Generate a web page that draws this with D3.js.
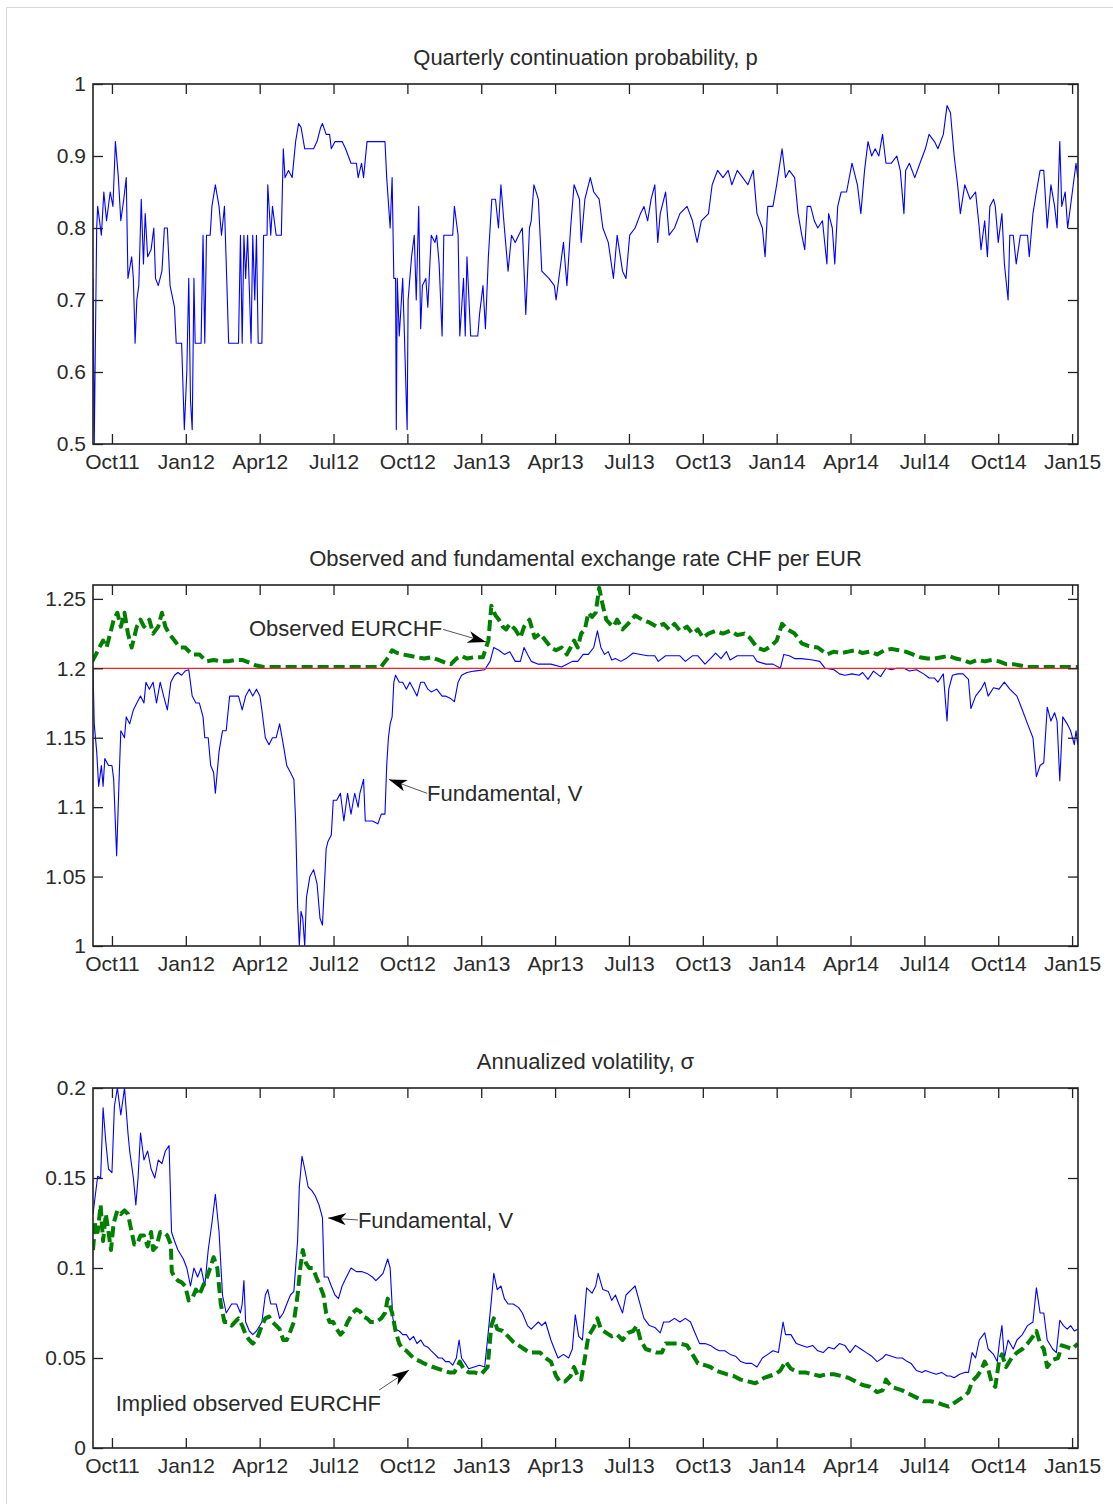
<!DOCTYPE html>
<html>
<head>
<meta charset="utf-8">
<script src="https://cdn.jsdelivr.net/npm/d3@7"></script>
<style>
  body { margin: 0; background: #fff; }
  text { font-family: "Liberation Sans", Arial, sans-serif; }
</style>
</head>
<body>
<svg id="chart" width="1113" height="1504"></svg>
<script>
// x values are months after 1 Oct 2011
var monthTicks = [0, 3, 6, 9, 12, 15, 18, 21, 24, 27, 30, 33, 36, 39];
var monthLabels = ["Oct11", "Jan12", "Apr12", "Jul12", "Oct12", "Jan13", "Apr13",
                   "Jul13", "Oct13", "Jan14", "Apr14", "Jul14", "Oct14", "Jan15"];

var pTicks = [0.5, 0.6, 0.7, 0.8, 0.9, 1];
var rateTicks = [1, 1.05, 1.1, 1.15, 1.2, 1.25];
var volTicks = [0, 0.05, 0.1, 0.15, 0.2];

var floorRate = 1.2;

// continuation probability p
var pSeries = [[-0.77,0.73],[-0.72,0.50],[-0.62,0.80],[-0.58,0.83],[-0.43,0.79],[-0.33,0.85],[-0.22,0.81],[-0.07,0.85],[0.04,0.83],[0.14,0.92],[0.26,0.87],[0.36,0.81],[0.48,0.84],[0.58,0.87],[0.65,0.73],[0.80,0.76],[0.87,0.73],[0.94,0.64],[1.01,0.70],[1.09,0.72],[1.19,0.84],[1.28,0.75],[1.35,0.82],[1.45,0.76],[1.59,0.77],[1.70,0.80],[1.77,0.73],[1.88,0.72],[2.03,0.74],[2.13,0.80],[2.25,0.80],[2.36,0.72],[2.54,0.69],[2.61,0.64],[2.83,0.64],[2.94,0.52],[3.04,0.60],[3.12,0.73],[3.19,0.56],[3.26,0.52],[3.33,0.73],[3.38,0.64],[3.62,0.64],[3.70,0.79],[3.77,0.64],[3.84,0.79],[3.99,0.79],[4.06,0.83],[4.20,0.86],[4.35,0.83],[4.45,0.79],[4.57,0.83],[4.67,0.72],[4.74,0.64],[5.14,0.64],[5.22,0.79],[5.29,0.64],[5.36,0.79],[5.43,0.73],[5.51,0.79],[5.65,0.64],[5.72,0.79],[5.80,0.70],[5.87,0.79],[5.94,0.64],[6.09,0.64],[6.16,0.79],[6.30,0.79],[6.33,0.86],[6.45,0.79],[6.52,0.83],[6.67,0.79],[6.88,0.79],[6.96,0.91],[7.03,0.87],[7.17,0.88],[7.32,0.87],[7.46,0.92],[7.58,0.945],[7.68,0.94],[7.83,0.91],[8.19,0.91],[8.33,0.92],[8.48,0.94],[8.55,0.945],[8.70,0.93],[8.84,0.93],[8.91,0.91],[9.06,0.92],[9.35,0.92],[9.49,0.91],[9.71,0.89],[9.93,0.89],[10.00,0.87],[10.14,0.89],[10.22,0.87],[10.36,0.92],[11.09,0.92],[11.16,0.87],[11.30,0.80],[11.38,0.87],[11.45,0.73],[11.52,0.73],[11.55,0.52],[11.59,0.73],[11.67,0.65],[11.81,0.73],[11.88,0.65],[11.99,0.52],[12.03,0.70],[12.17,0.76],[12.28,0.79],[12.36,0.70],[12.46,0.83],[12.54,0.66],[12.61,0.72],[12.75,0.73],[12.83,0.69],[12.97,0.79],[13.12,0.78],[13.19,0.79],[13.29,0.75],[13.41,0.65],[13.48,0.79],[13.84,0.79],[13.91,0.83],[14.06,0.79],[14.13,0.65],[14.28,0.73],[14.35,0.65],[14.42,0.76],[14.57,0.65],[14.86,0.65],[14.93,0.68],[15.07,0.72],[15.17,0.66],[15.29,0.76],[15.43,0.84],[15.58,0.84],[15.70,0.80],[15.80,0.86],[15.94,0.80],[16.09,0.74],[16.23,0.79],[16.38,0.78],[16.52,0.79],[16.67,0.80],[16.81,0.68],[16.96,0.80],[17.03,0.81],[17.14,0.86],[17.32,0.84],[17.46,0.74],[17.75,0.73],[17.97,0.72],
  [18.04,0.70],[18.19,0.74],[18.34,0.78],[18.48,0.72],[18.63,0.80],[18.77,0.86],[18.99,0.84],[19.06,0.78],[19.21,0.84],[19.43,0.87],[19.57,0.85],[19.79,0.84],[19.94,0.80],[20.16,0.78],[20.37,0.73],[20.52,0.79],[20.74,0.74],[20.88,0.73],[21.03,0.79],[21.25,0.80],[21.47,0.82],[21.61,0.83],[21.76,0.81],[21.90,0.84],[22.05,0.86],[22.17,0.78],[22.27,0.82],[22.49,0.85],[22.63,0.79],[22.85,0.80],[23.07,0.82],[23.36,0.83],[23.58,0.81],[23.77,0.78],[23.94,0.81],[24.23,0.82],[24.38,0.86],[24.60,0.88],[24.82,0.87],[25.03,0.88],[25.18,0.86],[25.40,0.88],[25.62,0.87],[25.83,0.86],[26.05,0.88],[26.20,0.82],[26.42,0.80],[26.53,0.76],[26.64,0.83],[26.85,0.83],[27.00,0.86],[27.22,0.91],[27.36,0.87],[27.51,0.88],[27.73,0.87],[27.87,0.82],[28.02,0.79],[28.14,0.77],[28.24,0.83],[28.38,0.83],[28.53,0.81],[28.67,0.80],[28.86,0.81],[29.04,0.75],[29.11,0.82],[29.26,0.80],[29.36,0.75],[29.48,0.83],[29.62,0.85],[29.84,0.85],[30.06,0.89],[30.28,0.86],[30.42,0.82],[30.57,0.88],[30.71,0.92],[30.86,0.90],[31.00,0.91],[31.15,0.90],[31.30,0.93],[31.44,0.89],[31.66,0.89],[31.88,0.90],[32.02,0.88],[32.17,0.82],[32.24,0.88],[32.39,0.89],[32.61,0.87],[32.82,0.89],[33.04,0.91],[33.19,0.93],[33.41,0.92],[33.55,0.91],[33.77,0.93],[33.92,0.97],[34.06,0.96],[34.21,0.90],[34.35,0.86],[34.46,0.82],[34.64,0.86],[34.86,0.84],[35.08,0.85],[35.23,0.80],[35.30,0.77],[35.45,0.81],[35.56,0.76],[35.66,0.83],[35.81,0.84],[35.88,0.83],[36.00,0.78],[36.15,0.82],[36.25,0.75],[36.40,0.70],[36.47,0.79],[36.61,0.79],[36.73,0.75],[36.90,0.79],[37.19,0.79],[37.26,0.76],[37.41,0.82],[37.55,0.85],[37.70,0.88],[37.85,0.88],[37.99,0.80],[38.14,0.86],[38.29,0.83],[38.39,0.80],[38.50,0.92],[38.58,0.83],[38.72,0.85],[38.82,0.80],[39.01,0.85],[39.16,0.89],[39.23,0.87]];

// fundamental exchange rate V
var fundRate = [[-0.77,1.20],[-0.72,1.16],[-0.62,1.14],[-0.54,1.115],[-0.43,1.13],[-0.36,1.115],[-0.29,1.135],[-0.14,1.13],[0,1.13],[0.07,1.12],[0.19,1.065],[0.29,1.12],[0.36,1.155],[0.51,1.15],[0.58,1.165],[0.72,1.16],[0.87,1.17],[1.01,1.175],[1.16,1.18],[1.30,1.175],[1.38,1.19],[1.52,1.185],[1.67,1.19],[1.81,1.175],[1.96,1.19],[2.10,1.18],[2.25,1.17],[2.39,1.19],[2.54,1.195],[2.68,1.197],[2.83,1.195],[2.97,1.198],[3.12,1.199],[3.26,1.18],[3.41,1.175],[3.55,1.175],[3.70,1.165],[3.77,1.15],[3.91,1.15],[4.01,1.13],[4.13,1.125],[4.20,1.11],[4.35,1.14],[4.49,1.155],[4.64,1.155],[4.78,1.18],[4.93,1.18],[5.14,1.18],[5.29,1.17],[5.43,1.18],[5.58,1.185],[5.72,1.18],[5.87,1.185],[6.01,1.18],[6.09,1.17],[6.23,1.15],[6.38,1.145],[6.52,1.15],[6.67,1.15],[6.81,1.16],[6.96,1.145],[7.10,1.13],[7.25,1.125],[7.39,1.12],[7.46,1.09],[7.54,1.03],[7.61,1.0],[7.68,1.025],[7.75,1.02],[7.83,1.0],[7.90,1.035],[8.04,1.05],[8.19,1.055],[8.33,1.045],[8.45,1.02],[8.55,1.015],[8.62,1.04],[8.70,1.07],[8.77,1.075],[8.91,1.08],[8.99,1.105],[9.13,1.105],[9.28,1.11],[9.42,1.09],[9.57,1.11],[9.71,1.095],[9.86,1.11],[10.00,1.10],[10.07,1.11],[10.22,1.12],[10.29,1.09],[10.43,1.09],[10.58,1.09],[10.80,1.088],[10.94,1.095],[11.09,1.095],[11.16,1.13],[11.23,1.15],[11.30,1.16],[11.38,1.165],[11.45,1.19],[11.52,1.195],[11.67,1.19],[11.81,1.19],[11.96,1.185],[12.10,1.19],[12.25,1.185],[12.39,1.18],[12.54,1.19],[12.68,1.19],[12.83,1.185],[12.97,1.183],[13.19,1.185],[13.41,1.18],[13.55,1.18],[13.77,1.178],[13.91,1.176],[14.06,1.19],[14.20,1.195],[14.42,1.197],[14.71,1.198],[15.14,1.199],[15.36,1.205],[15.51,1.215],[15.72,1.213],[15.94,1.21],[16.16,1.212],[16.38,1.205],[16.59,1.205],[16.74,1.215],[16.88,1.21],[17.03,1.205],[17.32,1.203],[17.61,1.203],[17.83,1.203],
  [18.26,1.201],[18.48,1.203],[18.70,1.205],[18.92,1.205],[19.14,1.21],[19.35,1.21],[19.57,1.215],[19.72,1.227],[19.86,1.215],[20.01,1.21],[20.16,1.212],[20.30,1.206],[20.45,1.207],[20.67,1.205],[20.88,1.207],[21.17,1.211],[21.47,1.21],[21.76,1.209],[22.05,1.209],[22.19,1.205],[22.49,1.209],[22.78,1.209],[23.07,1.209],[23.29,1.205],[23.58,1.209],[23.80,1.209],[24.09,1.203],[24.31,1.207],[24.52,1.211],[24.74,1.207],[24.96,1.212],[25.11,1.206],[25.40,1.209],[25.76,1.209],[26.05,1.209],[26.20,1.205],[26.56,1.203],[26.85,1.203],[27.15,1.200],[27.29,1.21],[27.51,1.209],[27.73,1.207],[28.02,1.207],[28.46,1.206],[28.75,1.205],[28.97,1.2],[29.33,1.199],[29.55,1.196],[29.77,1.195],[30.06,1.196],[30.35,1.195],[30.49,1.197],[30.71,1.192],[30.93,1.198],[31.22,1.194],[31.44,1.2],[31.66,1.199],[31.88,1.2],[32.17,1.2],[32.39,1.198],[32.68,1.199],[32.97,1.196],[33.19,1.193],[33.41,1.193],[33.55,1.19],[33.77,1.196],[33.92,1.162],[33.99,1.185],[34.14,1.195],[34.35,1.196],[34.57,1.196],[34.79,1.192],[34.89,1.171],[35.08,1.18],[35.30,1.185],[35.45,1.19],[35.59,1.18],[35.81,1.186],[36.03,1.185],[36.25,1.19],[36.47,1.185],[36.76,1.18],[36.98,1.17],[37.19,1.16],[37.41,1.15],[37.55,1.122],[37.70,1.13],[37.85,1.132],[37.99,1.172],[38.14,1.162],[38.29,1.168],[38.39,1.162],[38.50,1.119],[38.62,1.165],[38.80,1.16],[38.94,1.155],[39.09,1.145],[39.16,1.155],[39.23,1.145]];

// observed EURCHF
var obsRate = [[-0.80,1.205],[-0.65,1.21],[-0.51,1.215],[-0.36,1.22],[-0.22,1.215],[-0.07,1.225],[0.07,1.235],[0.22,1.24],[0.36,1.23],[0.51,1.24],[0.65,1.225],[0.80,1.215],[1.01,1.23],[1.16,1.235],[1.30,1.23],[1.52,1.235],[1.67,1.225],[1.88,1.23],[2.03,1.24],[2.17,1.23],[2.32,1.225],[2.54,1.22],[2.75,1.215],[2.97,1.215],[3.26,1.21],[3.55,1.21],[3.84,1.205],[4.13,1.206],[4.42,1.205],[4.71,1.205],[5.00,1.206],[5.29,1.206],[5.58,1.204],[5.87,1.202],[6.16,1.201],[6.45,1.201],[8.48,1.201],[10.94,1.201],[11.01,1.203],[11.23,1.208],[11.38,1.213],[11.59,1.211],[11.81,1.21],[12.10,1.209],[12.39,1.208],[12.68,1.207],[12.97,1.208],[13.26,1.206],[13.55,1.204],[13.77,1.203],[13.99,1.207],[14.20,1.209],[14.42,1.207],[14.71,1.208],[15.07,1.208],[15.29,1.22],[15.41,1.245],[15.58,1.238],[15.72,1.235],[15.87,1.23],[16.01,1.228],[16.16,1.232],[16.38,1.228],[16.59,1.222],[16.74,1.23],[16.96,1.235],[17.17,1.222],[17.39,1.225],[17.61,1.22],[17.83,1.215],
  [18.04,1.213],[18.26,1.215],[18.48,1.21],[18.63,1.215],[18.77,1.22],[18.92,1.215],[19.06,1.225],[19.21,1.228],[19.35,1.24],[19.50,1.237],[19.65,1.24],[19.79,1.258],[19.94,1.245],[20.08,1.235],[20.23,1.232],[20.37,1.23],[20.52,1.235],[20.74,1.228],[20.96,1.232],[21.25,1.238],[21.54,1.235],[21.83,1.233],[22.12,1.23],[22.41,1.232],[22.63,1.228],[22.85,1.232],[23.07,1.227],[23.36,1.23],[23.58,1.225],[23.80,1.228],[24.01,1.222],[24.23,1.225],[24.52,1.227],[24.82,1.225],[25.11,1.227],[25.40,1.224],[25.69,1.225],[25.91,1.222],[26.20,1.215],[26.49,1.213],[26.78,1.216],[27.00,1.22],[27.22,1.232],[27.44,1.228],[27.73,1.225],[28.02,1.218],[28.31,1.216],[28.67,1.215],[29.04,1.21],[29.33,1.212],[29.62,1.211],[29.91,1.212],[30.20,1.213],[30.49,1.211],[30.79,1.212],[31.08,1.21],[31.37,1.213],[31.66,1.214],[31.95,1.213],[32.24,1.212],[32.53,1.21],[32.82,1.208],[33.12,1.207],[33.41,1.207],[33.70,1.208],[33.99,1.209],[34.28,1.207],[34.57,1.206],[34.86,1.204],[35.15,1.206],[35.45,1.205],[35.74,1.206],[36.03,1.205],[36.32,1.203],[36.61,1.203],[36.90,1.202],[37.19,1.201],[37.48,1.201],[37.92,1.201],[38.36,1.201],[38.80,1.201],[39.23,1.201]];

// annualized volatility of V
var fundVol = [[-0.77,0.13],[-0.68,0.14],[-0.58,0.151],[-0.46,0.15],[-0.36,0.189],[-0.25,0.17],[-0.14,0.155],[0,0.153],[0.10,0.19],[0.22,0.2],[0.36,0.185],[0.51,0.2],[0.65,0.175],[0.72,0.165],[0.87,0.15],[0.97,0.135],[1.06,0.15],[1.16,0.175],[1.30,0.16],[1.45,0.165],[1.59,0.155],[1.74,0.15],[1.88,0.16],[2.03,0.158],[2.17,0.165],[2.32,0.168],[2.42,0.12],[2.54,0.115],[2.68,0.11],[2.90,0.105],[3.04,0.10],[3.19,0.09],[3.33,0.10],[3.48,0.095],[3.62,0.10],[3.77,0.09],[3.91,0.11],[4.06,0.125],[4.20,0.141],[4.35,0.12],[4.49,0.085],[4.64,0.075],[4.86,0.08],[5.07,0.08],[5.22,0.075],[5.29,0.08],[5.36,0.093],[5.43,0.07],[5.58,0.065],[5.72,0.063],[5.87,0.065],[6.09,0.07],[6.23,0.085],[6.33,0.088],[6.45,0.08],[6.67,0.08],[6.81,0.072],[6.96,0.075],[7.10,0.08],[7.25,0.085],[7.39,0.087],[7.54,0.115],[7.61,0.145],[7.72,0.162],[7.83,0.155],[7.97,0.145],[8.12,0.143],[8.26,0.14],[8.41,0.135],[8.55,0.128],[8.62,0.095],[8.77,0.095],[8.91,0.09],[9.06,0.085],[9.20,0.083],[9.35,0.09],[9.49,0.094],[9.71,0.10],[9.93,0.098],[10.14,0.098],[10.36,0.097],[10.58,0.095],[10.72,0.093],[10.87,0.095],[11.01,0.097],[11.20,0.105],[11.30,0.10],[11.41,0.072],[11.52,0.066],[11.67,0.065],[11.81,0.063],[11.96,0.063],[12.10,0.06],[12.25,0.062],[12.39,0.058],[12.54,0.06],[12.68,0.057],[12.83,0.056],[12.97,0.054],[13.12,0.052],[13.26,0.05],[13.41,0.05],[13.55,0.048],[13.70,0.048],[13.84,0.046],[13.99,0.05],[14.10,0.06],[14.20,0.05],[14.35,0.047],[14.49,0.044],[14.71,0.045],[14.93,0.046],[15.14,0.045],[15.29,0.065],[15.41,0.082],[15.51,0.097],[15.65,0.088],[15.80,0.09],[15.94,0.083],[16.09,0.08],[16.30,0.08],[16.52,0.078],[16.67,0.075],[16.88,0.068],[17.03,0.066],[17.17,0.068],[17.32,0.07],[17.46,0.068],[17.61,0.07],[17.83,0.06],
  [17.97,0.055],[18.12,0.05],[18.34,0.052],[18.55,0.05],[18.70,0.055],[18.82,0.074],[18.96,0.062],[19.11,0.06],[19.28,0.089],[19.50,0.086],[19.65,0.09],[19.75,0.097],[19.94,0.088],[20.16,0.087],[20.30,0.082],[20.45,0.085],[20.59,0.08],[20.74,0.075],[20.88,0.085],[21.10,0.088],[21.25,0.09],[21.39,0.083],[21.61,0.072],[21.83,0.068],[22.05,0.067],[22.27,0.064],[22.41,0.07],[22.63,0.07],[22.85,0.072],[23.07,0.07],[23.29,0.072],[23.50,0.07],[23.65,0.065],[23.87,0.058],[24.09,0.058],[24.31,0.057],[24.52,0.055],[24.67,0.054],[24.89,0.054],[25.11,0.052],[25.33,0.051],[25.54,0.048],[25.76,0.047],[25.98,0.047],[26.20,0.045],[26.42,0.05],[26.64,0.052],[26.85,0.054],[27.07,0.053],[27.26,0.07],[27.36,0.063],[27.58,0.063],[27.80,0.058],[28.02,0.057],[28.24,0.056],[28.46,0.057],[28.67,0.054],[28.89,0.053],[29.11,0.056],[29.33,0.055],[29.55,0.058],[29.77,0.057],[29.98,0.053],[30.20,0.057],[30.42,0.055],[30.64,0.053],[30.86,0.051],[31.08,0.048],[31.30,0.05],[31.44,0.052],[31.66,0.051],[31.88,0.05],[32.10,0.05],[32.31,0.048],[32.46,0.047],[32.68,0.043],[32.90,0.042],[33.04,0.043],[33.26,0.042],[33.48,0.041],[33.70,0.042],[33.92,0.04],[34.06,0.04],[34.21,0.039],[34.43,0.041],[34.64,0.042],[34.79,0.042],[34.94,0.053],[35.08,0.05],[35.23,0.06],[35.45,0.064],[35.59,0.055],[35.81,0.052],[35.96,0.048],[36.06,0.06],[36.15,0.068],[36.25,0.05],[36.40,0.06],[36.61,0.055],[36.76,0.06],[36.98,0.063],[37.19,0.068],[37.41,0.07],[37.55,0.089],[37.70,0.075],[37.85,0.075],[37.99,0.06],[38.21,0.055],[38.36,0.053],[38.50,0.071],[38.65,0.068],[38.80,0.066],[38.94,0.068],[39.09,0.065],[39.23,0.066]];

// implied volatility of observed EURCHF
var obsVol = [[-0.77,0.11],[-0.68,0.125],[-0.58,0.12],[-0.46,0.135],[-0.36,0.115],[-0.25,0.13],[-0.14,0.12],[-0.04,0.11],[0.07,0.125],[0.22,0.132],[0.36,0.13],[0.51,0.132],[0.65,0.13],[0.80,0.12],[0.91,0.113],[1.01,0.113],[1.16,0.118],[1.30,0.118],[1.45,0.112],[1.59,0.12],[1.67,0.11],[1.81,0.112],[1.96,0.12],[2.10,0.12],[2.25,0.118],[2.39,0.113],[2.43,0.098],[2.54,0.095],[2.68,0.093],[2.83,0.092],[2.97,0.09],[3.12,0.082],[3.26,0.083],[3.41,0.088],[3.55,0.085],[3.70,0.09],[3.81,0.093],[3.99,0.10],[4.13,0.106],[4.28,0.10],[4.42,0.08],[4.57,0.07],[4.71,0.07],[4.86,0.068],[5.00,0.07],[5.14,0.072],[5.29,0.068],[5.43,0.063],[5.58,0.06],[5.72,0.058],[5.87,0.06],[6.09,0.068],[6.23,0.072],[6.38,0.073],[6.52,0.07],[6.67,0.068],[6.81,0.066],[6.96,0.06],[7.10,0.06],[7.25,0.065],[7.39,0.07],[7.54,0.085],[7.65,0.10],[7.75,0.11],[7.87,0.103],[8.01,0.10],[8.16,0.10],[8.30,0.095],[8.45,0.09],[8.59,0.085],[8.70,0.075],[8.84,0.07],[8.99,0.07],[9.13,0.066],[9.28,0.063],[9.42,0.065],[9.57,0.07],[9.78,0.075],[9.93,0.077],[10.07,0.076],[10.22,0.073],[10.36,0.072],[10.51,0.07],[10.72,0.07],[10.94,0.072],[11.09,0.075],[11.20,0.083],[11.38,0.075],[11.52,0.065],[11.67,0.058],[11.81,0.055],[11.96,0.054],[12.10,0.052],[12.25,0.05],[12.39,0.049],[12.54,0.048],[12.68,0.047],[12.83,0.046],[13.04,0.045],[13.26,0.044],[13.48,0.043],[13.70,0.042],[13.91,0.042],[14.13,0.048],[14.28,0.044],[14.49,0.042],[14.71,0.042],[15.00,0.041],[15.26,0.045],[15.41,0.068],[15.51,0.072],[15.65,0.066],[15.87,0.065],[16.09,0.062],[16.30,0.059],[16.52,0.057],[16.74,0.055],[16.96,0.053],[17.17,0.053],[17.39,0.053],[17.61,0.05],[17.83,0.048],
  [18.04,0.04],[18.19,0.037],[18.41,0.037],[18.63,0.04],[18.77,0.045],[18.92,0.04],[19.06,0.038],[19.21,0.05],[19.35,0.062],[19.57,0.067],[19.72,0.072],[19.86,0.066],[20.08,0.064],[20.30,0.062],[20.52,0.063],[20.74,0.06],[20.96,0.064],[21.17,0.065],[21.32,0.068],[21.47,0.06],[21.68,0.055],[21.90,0.054],[22.12,0.053],[22.34,0.053],[22.49,0.058],[22.78,0.058],[23.07,0.058],[23.36,0.057],[23.58,0.052],[23.80,0.047],[24.09,0.046],[24.31,0.045],[24.52,0.043],[24.74,0.042],[24.96,0.041],[25.25,0.04],[25.54,0.038],[25.83,0.037],[26.13,0.036],[26.27,0.037],[26.49,0.039],[26.71,0.04],[26.93,0.041],[27.15,0.043],[27.36,0.048],[27.58,0.044],[27.87,0.042],[28.16,0.042],[28.46,0.041],[28.75,0.04],[29.04,0.041],[29.33,0.041],[29.62,0.04],[29.91,0.039],[30.20,0.037],[30.49,0.035],[30.79,0.034],[31.08,0.031],[31.30,0.032],[31.44,0.038],[31.66,0.034],[31.88,0.033],[32.10,0.032],[32.39,0.03],[32.68,0.028],[32.97,0.026],[33.26,0.026],[33.55,0.025],[33.77,0.024],[33.99,0.023],[34.21,0.025],[34.43,0.027],[34.64,0.029],[34.79,0.031],[34.94,0.037],[35.15,0.04],[35.30,0.043],[35.45,0.048],[35.59,0.044],[35.74,0.036],[35.88,0.034],[36.03,0.048],[36.15,0.052],[36.32,0.045],[36.54,0.05],[36.76,0.053],[36.98,0.055],[37.19,0.058],[37.41,0.062],[37.55,0.065],[37.70,0.058],[37.85,0.055],[37.99,0.045],[38.21,0.049],[38.43,0.05],[38.58,0.057],[38.80,0.056],[39.01,0.055],[39.23,0.058]];

var svg = d3.select("#chart");
var left = 93, right = 1078;
var x = d3.scaleLinear().domain([-0.77, 39.24]).range([left, right]);

// arrowhead like matlab's vback2
svg.append("defs").append("marker")
    .attr("id", "head")
    .attr("viewBox", "0 0 18 12")
    .attr("refX", 18).attr("refY", 6)
    .attr("markerUnits", "userSpaceOnUse")
    .attr("markerWidth", 18).attr("markerHeight", 12)
    .attr("orient", "auto")
    .append("path")
    .attr("d", "M0,0L18,6L0,12L5,6Z")
    .attr("fill", "#000");

// thin grey frame around the figure
svg.append("path")
    .attr("d", "M6.5,1504V7.5H1113")
    .attr("fill", "none")
    .attr("stroke", "#d8d8d8")
    .attr("stroke-width", 1);

var panels = [
    { title: "Quarterly continuation probability, p", top: 84, bottom: 444,
      domain: [0.5, 1], ticks: pTicks,
      lines: [{ data: pSeries, color: "#0000ff", width: 1.1 }],
      notes: [] },
    { title: "Observed and fundamental exchange rate CHF per EUR", top: 585, bottom: 946,
      domain: [1, 1.26], ticks: rateTicks,
      lines: [{ data: fundRate, color: "#0000ff", width: 1.1 },
              { data: obsRate, color: "#008000", width: 4, dash: "11,5" }],
      floor: floorRate,
      notes: [{ text: "Observed EURCHF", tail: [13.45, 1.228], tip: [15.19, 1.219], side: "end" },
              { text: "Fundamental, V", tail: [12.8, 1.110], tip: [11.25, 1.120], side: "start" }] },
    { title: "Annualized volatility, \u03c3", top: 1088, bottom: 1448,
      domain: [0, 0.2], ticks: volTicks,
      lines: [{ data: fundVol, color: "#0000ff", width: 1.1 },
              { data: obsVol, color: "#008000", width: 4, dash: "11,5" }],
      notes: [{ text: "Fundamental, V", tail: [9.99, 0.1267], tip: [8.78, 0.1278], side: "start" },
              { text: "Implied observed EURCHF", tail: [10.85, 0.0322], tip: [12.07, 0.0433], side: "below" }] }
];

panels.forEach(function (cfg, k) {
    var y = d3.scaleLinear().domain(cfg.domain).range([cfg.bottom, cfg.top]);
    var g = svg.append("g");

    g.append("clipPath").attr("id", "clip" + k)
        .append("rect")
        .attr("x", left).attr("y", cfg.top)
        .attr("width", right - left).attr("height", cfg.bottom - cfg.top);

    var line = d3.line()
        .x(function (d) { return x(d[0]); })
        .y(function (d) { return y(d[1]); });

    var plot = g.append("g").attr("clip-path", "url(#clip" + k + ")");

    cfg.lines.forEach(function (s) {
        plot.append("path")
            .datum(s.data)
            .attr("d", line)
            .attr("fill", "none")
            .attr("stroke", s.color)
            .attr("stroke-width", s.width)
            .attr("stroke-dasharray", s.dash || null)
            .attr("stroke-linejoin", "round");
    });

    if (cfg.floor !== undefined) {
        plot.append("path")
            .datum(x.domain().map(function (t) { return [t, cfg.floor]; }))
            .attr("d", line)
            .attr("fill", "none")
            .attr("stroke", "#ff2020")
            .attr("stroke-width", 1.2);
    }

    // axes, matlab style: ticks inside on all four sides
    var bottomAxis = d3.axisBottom(x).tickValues(monthTicks)
        .tickFormat(function (d, i) { return monthLabels[i]; })
        .tickSizeInner(-10).tickSizeOuter(0).tickPadding(10);
    var topAxis = d3.axisTop(x).tickValues(monthTicks).tickFormat("")
        .tickSizeInner(-10).tickSizeOuter(0);
    var leftAxis = d3.axisLeft(y).tickValues(cfg.ticks).tickFormat(d3.format("~g"))
        .tickSizeInner(-10).tickSizeOuter(0).tickPadding(7);
    var rightAxis = d3.axisRight(y).tickValues(cfg.ticks).tickFormat("")
        .tickSizeInner(-10).tickSizeOuter(0);

    [[bottomAxis, "translate(0," + cfg.bottom + ")"],
     [topAxis, "translate(0," + cfg.top + ")"],
     [leftAxis, "translate(" + left + ",0)"],
     [rightAxis, "translate(" + right + ",0)"]].forEach(function (a) {
        var ag = g.append("g").attr("transform", a[1]).call(a[0]);
        ag.select(".domain").remove();
        ag.selectAll(".tick line").attr("stroke", "#222").attr("stroke-width", 1.3);
        ag.selectAll("text")
            .attr("font-size", 21)
            .attr("font-family", "'Liberation Sans', Arial, sans-serif")
            .attr("fill", "#2a2a2a");
    });

    g.append("rect")
        .attr("x", left).attr("y", cfg.top)
        .attr("width", right - left).attr("height", cfg.bottom - cfg.top)
        .attr("fill", "none")
        .attr("stroke", "#222")
        .attr("stroke-width", 1.6);

    g.append("text")
        .attr("x", (left + right) / 2)
        .attr("y", cfg.top - 19)
        .attr("text-anchor", "middle")
        .attr("font-size", 22)
        .attr("fill", "#2a2a2a")
        .text(cfg.title);

    cfg.notes.forEach(function (n) {
        var tx = x(n.tail[0]), ty = y(n.tail[1]);
        g.append("line")
            .attr("x1", tx).attr("y1", ty)
            .attr("x2", x(n.tip[0])).attr("y2", y(n.tip[1]))
            .attr("stroke", "#555")
            .attr("stroke-width", 1)
            .attr("marker-end", "url(#head)");
        var label = g.append("text")
            .attr("font-size", 22)
            .attr("fill", "#2a2a2a")
            .text(n.text);
        if (n.side === "end") {
            label.attr("x", tx - 1).attr("y", ty + 7).attr("text-anchor", "end");
        } else if (n.side === "start") {
            label.attr("x", tx).attr("y", ty + 8).attr("text-anchor", "start");
        } else {
            label.attr("x", tx + 2).attr("y", ty + 21).attr("text-anchor", "end");
        }
    });
});
</script>
</body>
</html>
